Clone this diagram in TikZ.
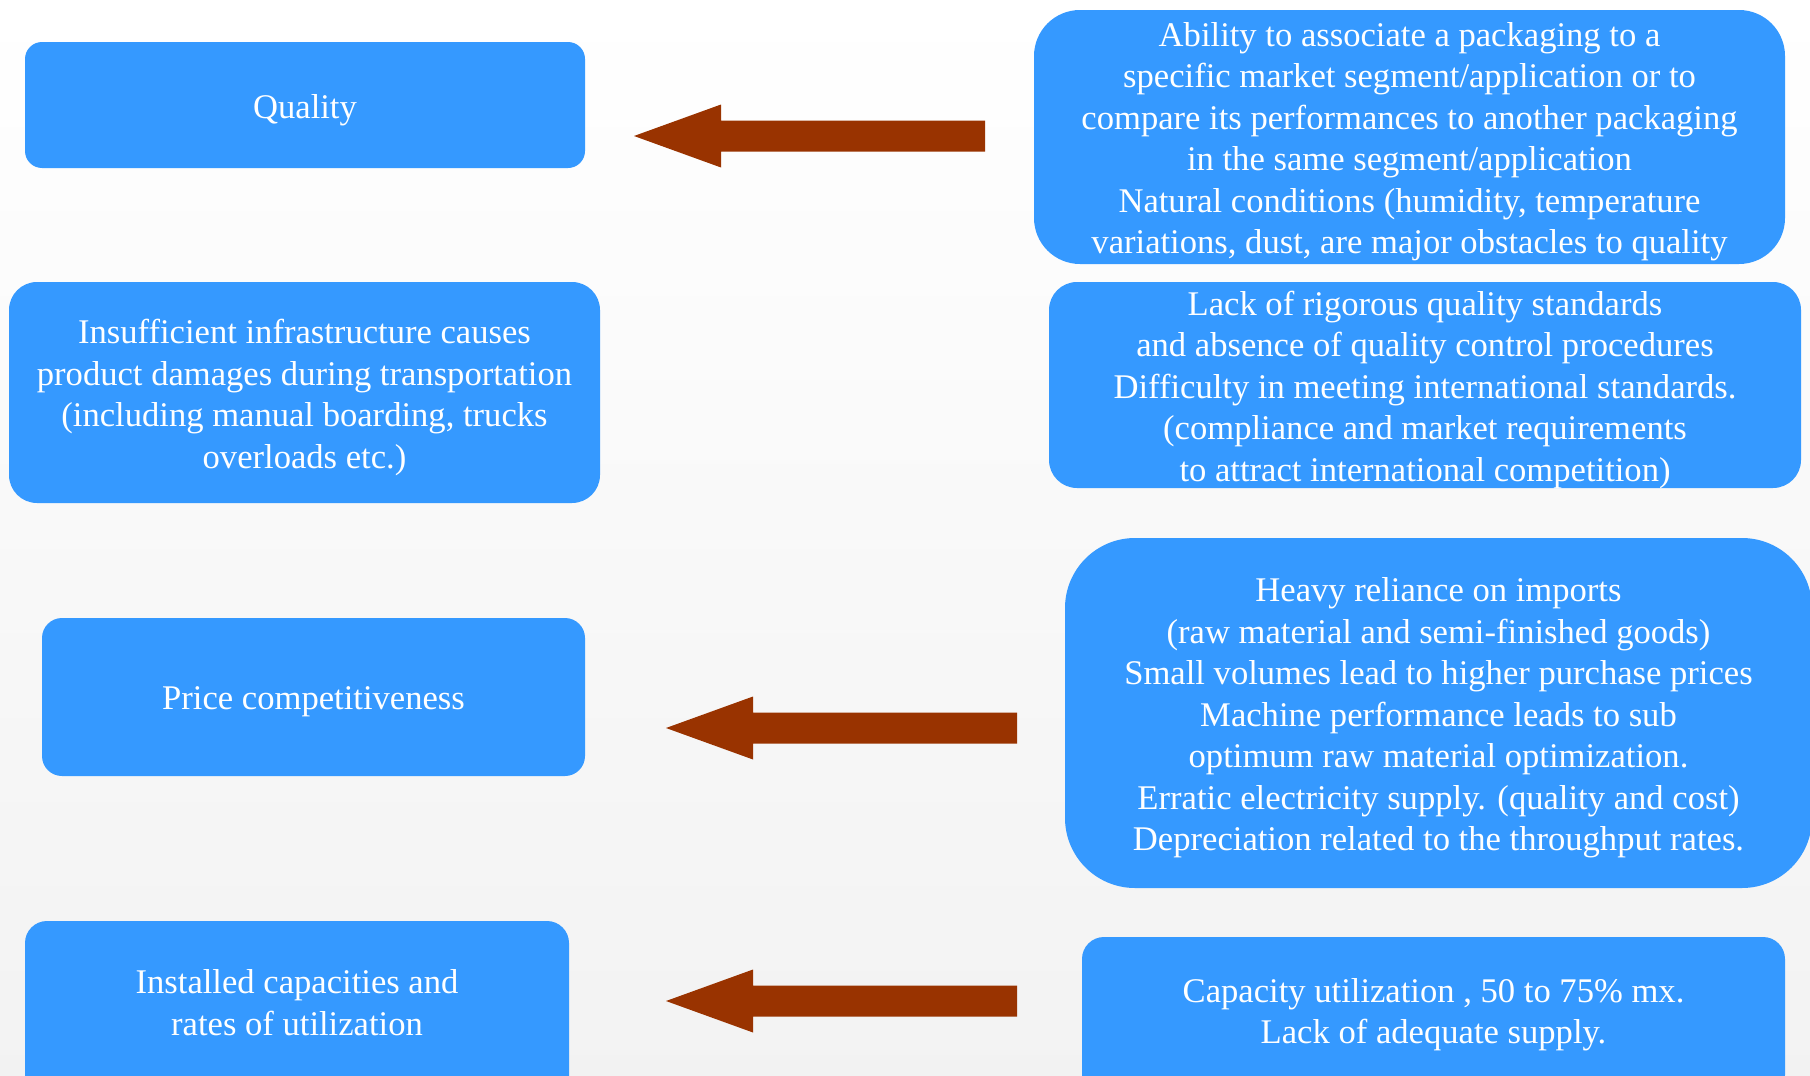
\documentclass[tikz,border=0pt]{standalone}
\usepackage{fontspec}
\setmainfont{Liberation Serif}
\usepackage{tikz}

\definecolor{boxblue}{RGB}{53,153,255}
\definecolor{arrowbrown}{RGB}{153,51,0}

\begin{document}
\begin{tikzpicture}[
						x=0.5pt, y=-0.5pt,
						every node/.style={font=\fontsize{17.3pt}{20.75pt}\selectfont},
						infobox/.style={fill=boxblue, inner sep=0pt},
						boxtext/.style={text=white, align=center, inner sep=0pt, yshift=-2.4pt},
						blockarrow/.pic={
							\fill[arrowbrown] (0,0) -- (87,-31.5) -- (87,-15.5) -- (351,-15.5)
							-- (351,15.5) -- (87,15.5) -- (87,31.5) -- cycle;
						}
						]
						
						% background
						\shade[top color=white, bottom color=black!5] (0,0) rectangle (1810,1076);
						\useasboundingbox (0,0) rectangle (1810,1076);
						
						% left column
						\node[infobox, rounded corners=8.5pt, minimum width=280pt, minimum height=63pt]
						(quality) at (305,105) {};
						\node[boxtext] (qualitytext) at (quality) {Quality};
						
						\node[infobox, rounded corners=14pt, minimum width=295.5pt, minimum height=110.5pt]
						(transport) at (304.5,392.5) {};
						\node[boxtext] (transporttext) at (transport) {Insufficient infrastructure causes\\
							product damages during transportation\\
							(including manual boarding, trucks\\
							overloads etc.)};
						
						\node[infobox, rounded corners=10pt, minimum width=271.5pt, minimum height=79pt]
						(price) at (313.5,697) {};
						\node[boxtext] (pricetext) at (price) {Price competitiveness};
						
						% runs off the bottom edge
						\node[infobox, rounded corners=11pt, minimum width=272pt, minimum height=90pt]
						(capacity) at (297,1011) {};
						\node[boxtext] (capacitytext) at ([yshift=6.5pt]capacity.center) {Installed capacities and\\
							rates of utilization};
						
						% right column
						\node[infobox, rounded corners=23pt, minimum width=375.5pt, minimum height=127pt]
						(segment) at (1409.5,137) {};
						\node[boxtext] (segmenttext) at (segment) {Ability to associate a packaging to a\\
							specific market segment/application or to\\
							compare its performances to another packaging\\
							in the same segment/application\\
							Natural conditions (humidity, temperature\\
							variations, dust, are major obstacles to quality};
						
						\node[infobox, rounded corners=14pt, minimum width=376pt, minimum height=103pt]
						(standards) at (1425,385) {};
						\node[boxtext] (standardstext) at (standards) {Lack of rigorous quality standards\\
							and absence of quality control procedures\\
							Difficulty in meeting international standards.\\
							(compliance and market requirements\\
							to attract international competition)};
						
						\node[infobox, rounded corners=35pt, minimum width=373.5pt, minimum height=175pt]
						(imports) at (1438.5,713) {};
						\node[boxtext] (importstext) at (imports) {Heavy reliance on imports\\
							(raw material and semi-finished goods)\\
							Small volumes lead to higher purchase prices\\
							Machine performance leads to sub\\
							optimum raw material optimization.\\
							Erratic electricity supply. (quality and cost)\\
							Depreciation related to the throughput rates.};
						
						\node[infobox, rounded corners=11pt, minimum width=351.5pt, minimum height=80pt]
						(utilization) at (1433.5,1017) {};
						\node[boxtext] (utilizationtext) at ([yshift=3.5pt]utilization.center) {Capacity utilization , 50 to 75\% mx.\\
							Lack of adequate supply.};
						
						% block arrows
						\pic at (634,136) {blockarrow};
						\pic at (666,728) {blockarrow};
						\pic at (666,1001) {blockarrow};
						
					\end{tikzpicture}
\end{document}
